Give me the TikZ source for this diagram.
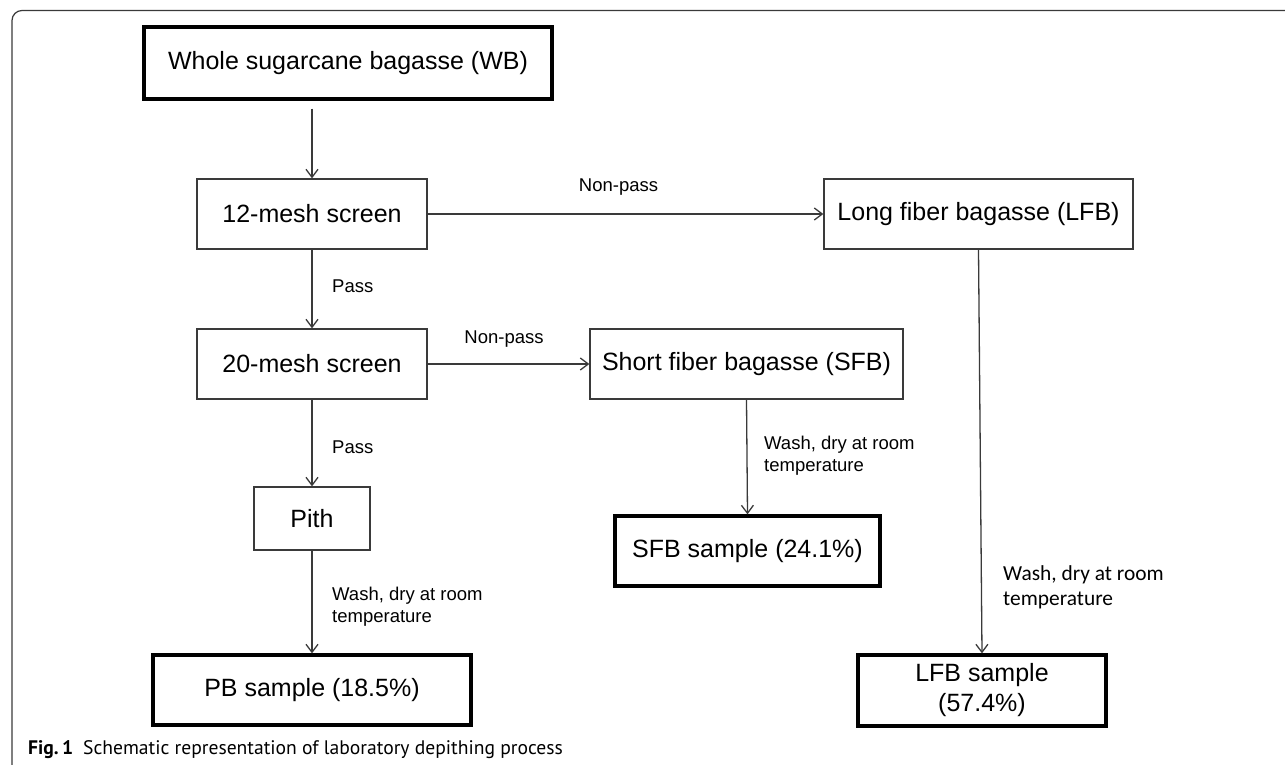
\documentclass[tikz,border=0pt]{standalone}
\usepackage{fontspec}
\setmainfont{Liberation Sans}
\newfontfamily\calibrifont{Carlito}
\newfontfamily\capfont{PT Sans}
\usetikzlibrary{arrows.meta}
\definecolor{linegray}{HTML}{3A3A3A}
\tikzset{
  thinbox/.style={draw=linegray, line width=1.3pt, inner sep=0pt, align=center,
    font=\fontsize{25}{30}\selectfont},
  thickbox/.style={draw=black, line width=3.3pt, inner sep=0pt, align=center,
    font=\fontsize{25}{30}\selectfont},
  arr/.style={draw=linegray, line width=1.3pt, -{Straight Barb[length=8pt,width=12pt,line width=1.3pt]}},
  lbl/.style={inner sep=0pt, font=\fontsize{18.5}{21.5}\selectfont, align=left},
  lblc/.style={inner sep=0pt, font=\calibrifont\fontsize{21.4}{25}\selectfont, align=left},
}
\begin{document}
\begin{tikzpicture}[x=1pt,y=-1pt]
\useasboundingbox (0,0) rectangle (1285,765);
% frame
\draw[linegray, line width=1.2pt, rounded corners=10pt] (12,765) -- (12,10.5) -- (1285,10.5);
% boxes
\node[thickbox, minimum width=408pt, minimum height=72pt] (wb) at (348,63) {Whole sugarcane bagasse (WB)};
\node[thinbox, minimum width=230pt, minimum height=70pt] (m12) at (312,214) {12-mesh screen};
\node[thinbox, minimum width=230pt, minimum height=70pt] (m20) at (312,364) {20-mesh screen};
\node[thinbox, minimum width=309pt, minimum height=70pt] (lfb) at (978.5,214) {Long fiber bagasse (LFB)};
\node[thinbox, minimum width=313pt, minimum height=70pt] (sfb) at (746.5,364) {Short fiber bagasse (SFB)};
\node[thinbox, minimum width=116pt, minimum height=63pt] (pith) at (312,518.5) {Pith};
\node[thickbox, minimum width=318pt, minimum height=70pt] (pb) at (312,690) {PB sample (18.5\%)};
\node[thickbox, minimum width=265pt, minimum height=70pt] (sfbs) at (747.5,551) {SFB sample (24.1\%)};
\node[thickbox, minimum width=248pt, minimum height=71pt] (lfbs) at (982,690.5) {LFB sample\\(57.4\%)};
% connectors
\coordinate (wbout) at ([yshift=-8pt]wb.south -| m12.north);
\draw[arr] (wbout) -- (m12.north);
\draw[arr] (m12.south) -- (m20.north);
\draw[arr] (m20.south) -- (pith.north);
\draw[arr] (pith.south) -- (pb.north);
\draw[arr] (m12.east) -- (lfb.west);
\draw[arr] (m20.east) -- (sfb.west);
\draw[arr] (sfb.south) -- (sfbs.north);
\draw[arr] (lfb.south) -- (lfbs.north);
% labels
\node[lbl] (l1) at (618.5,187) {Non-pass};
\node[lbl] (l2) at (504,339) {Non-pass};
\node[lbl, anchor=west] (l3) at (332,286) {Pass};
\node[lbl, anchor=west] (l4) at (332,447) {Pass};
\node[lbl, anchor=north west] (l5) at (332,587) {Wash, dry at room\\temperature};
\node[lbl, anchor=north west] (l6) at (764,436) {Wash, dry at room\\temperature};
\node[lblc, anchor=north west] (l7) at (1003,565) {Wash, dry at room\\temperature};
% caption
\node[inner sep=0pt, anchor=base west, font=\capfont\fontsize{19.6}{23}\selectfont, text=black] (cap) at (28,754)
  {\textbf{Fig.\,1}\hspace{10pt}Schematic representation of laboratory depithing process};
\end{tikzpicture}
\end{document}
